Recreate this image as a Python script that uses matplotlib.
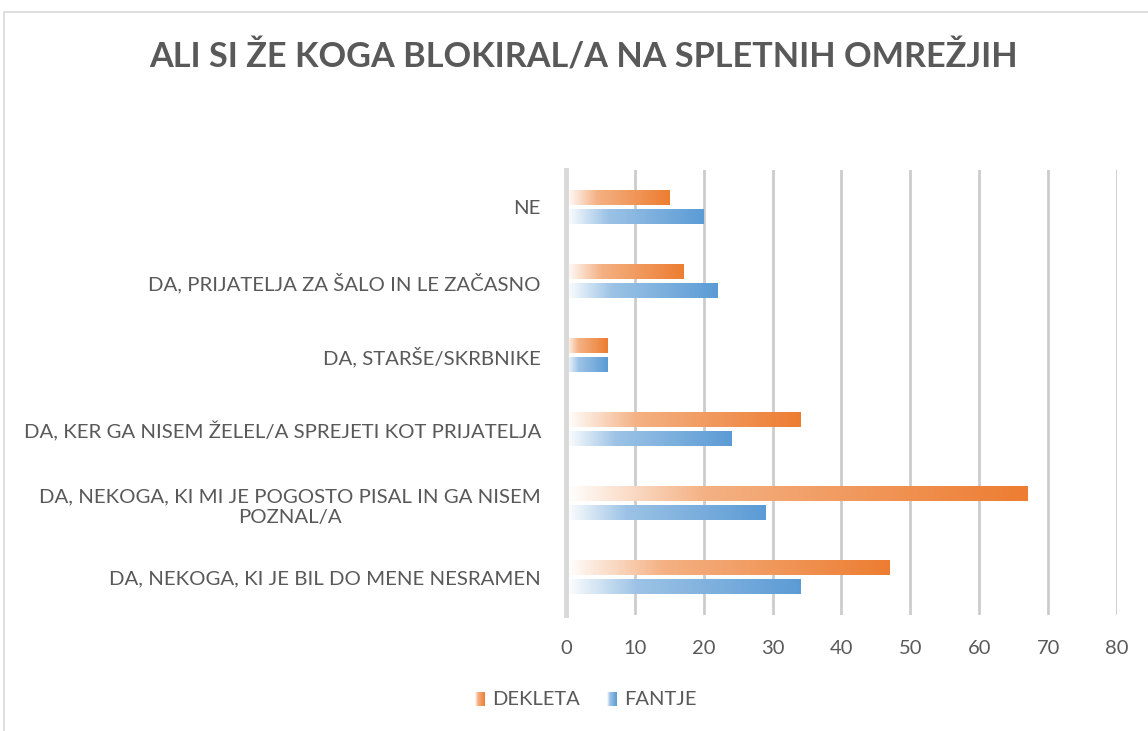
import numpy as np
import matplotlib.pyplot as plt
from matplotlib.colors import to_rgb
from matplotlib.patches import Rectangle

# data (bottom to top, as drawn)
categories = [
    "DA, NEKOGA, KI JE BIL DO MENE NESRAMEN",
    "DA, NEKOGA, KI MI JE POGOSTO PISAL IN GA NISEM\nPOZNAL/A",
    "DA, KER GA NISEM ŽELEL/A SPREJETI KOT PRIJATELJA",
    "DA, STARŠE/SKRBNIKE",
    "DA, PRIJATELJA ZA ŠALO IN LE ZAČASNO",
    "NE",
]
dekleta = [47, 67, 34, 6, 17, 15]
fantje = [34, 29, 24, 6, 22, 20]
series_names = ["DEKLETA", "FANTJE"]
series_colors = ["#ED7D31", "#5B9BD5"]
xticks = [0, 10, 20, 30, 40, 50, 60, 70, 80]

plt.rcParams['font.family'] = ['Lato', 'DejaVu Sans']
grey = "#595959"


def gradient(color, n=256):
    c = np.array(to_rgb(color))
    w = np.array([1.0, 1.0, 1.0])
    t = np.linspace(0, 1, n)
    # white -> lighter tint fast, then slowly to the full colour
    k = np.interp(t, [0, 0.3, 1.0], [0.0, 0.6, 1.0])
    rgb = w[None, :] * (1 - k[:, None]) + c[None, :] * k[:, None]
    return rgb[None, :, :]


fig = plt.figure(figsize=(11.48, 7.31), dpi=100)
ax = fig.add_axes([0.493, 0.159, 0.480, 0.608])

y = np.arange(len(categories))
h = 0.19
off = 0.13
for vals, col, sgn in [(dekleta, series_colors[0], 1), (fantje, series_colors[1], -1)]:
    g = gradient(col)
    for yi, v in zip(y, vals):
        yc = yi + sgn * off
        ax.imshow(g, extent=[0, v, yc - h / 2, yc + h / 2], aspect='auto',
                  interpolation='bilinear', zorder=3)

ax.set_xlim(0, 80)
ax.set_ylim(-0.5, len(categories) - 0.5)
ax.set_xticks(xticks)
ax.set_yticks(y)
ax.set_yticklabels(categories, fontsize=14.7, color=grey, ma='center', linespacing=1.3)
ax.tick_params(axis='both', length=0, colors=grey)
ax.tick_params(axis='x', labelsize=14.5, pad=18)
ax.tick_params(axis='y', pad=18)
ax.grid(axis='x', color='#cccccc', linewidth=2, zorder=0)
ax.set_axisbelow(True)
for s in ['top', 'right', 'bottom']:
    ax.spines[s].set_visible(False)
ax.spines['left'].set_color('#d9d9d9')
ax.spines['left'].set_linewidth(3.5)
ax.spines['left'].set_zorder(4)

fig.text(0.508, 0.922, "ALI SI ŽE KOGA BLOKIRAL/A NA SPLETNIH OMREŽJIH",
         ha='center', va='center', fontsize=24.7, fontweight='bold', color=grey)

# legend with gradient swatches
lx = [0.414, 0.529]
for name, col, x0 in zip(series_names, series_colors, lx):
    sw = fig.add_axes([x0, 0.034, 0.0085, 0.019])
    sw.imshow(gradient(col), aspect='auto', extent=[0, 1, 0, 1])
    sw.set_axis_off()
    fig.text(x0 + 0.0145, 0.043, name, ha='left', va='center', fontsize=14.5, color=grey)

# chart border
fig.patches.append(Rectangle((4 / 1148, -0.05), 1.2, 0.05 + 1 - 12 / 731,
                             transform=fig.transFigure, fill=False,
                             edgecolor='#d9d9d9', linewidth=1.2))

fig.savefig("out.png", dpi=100)
